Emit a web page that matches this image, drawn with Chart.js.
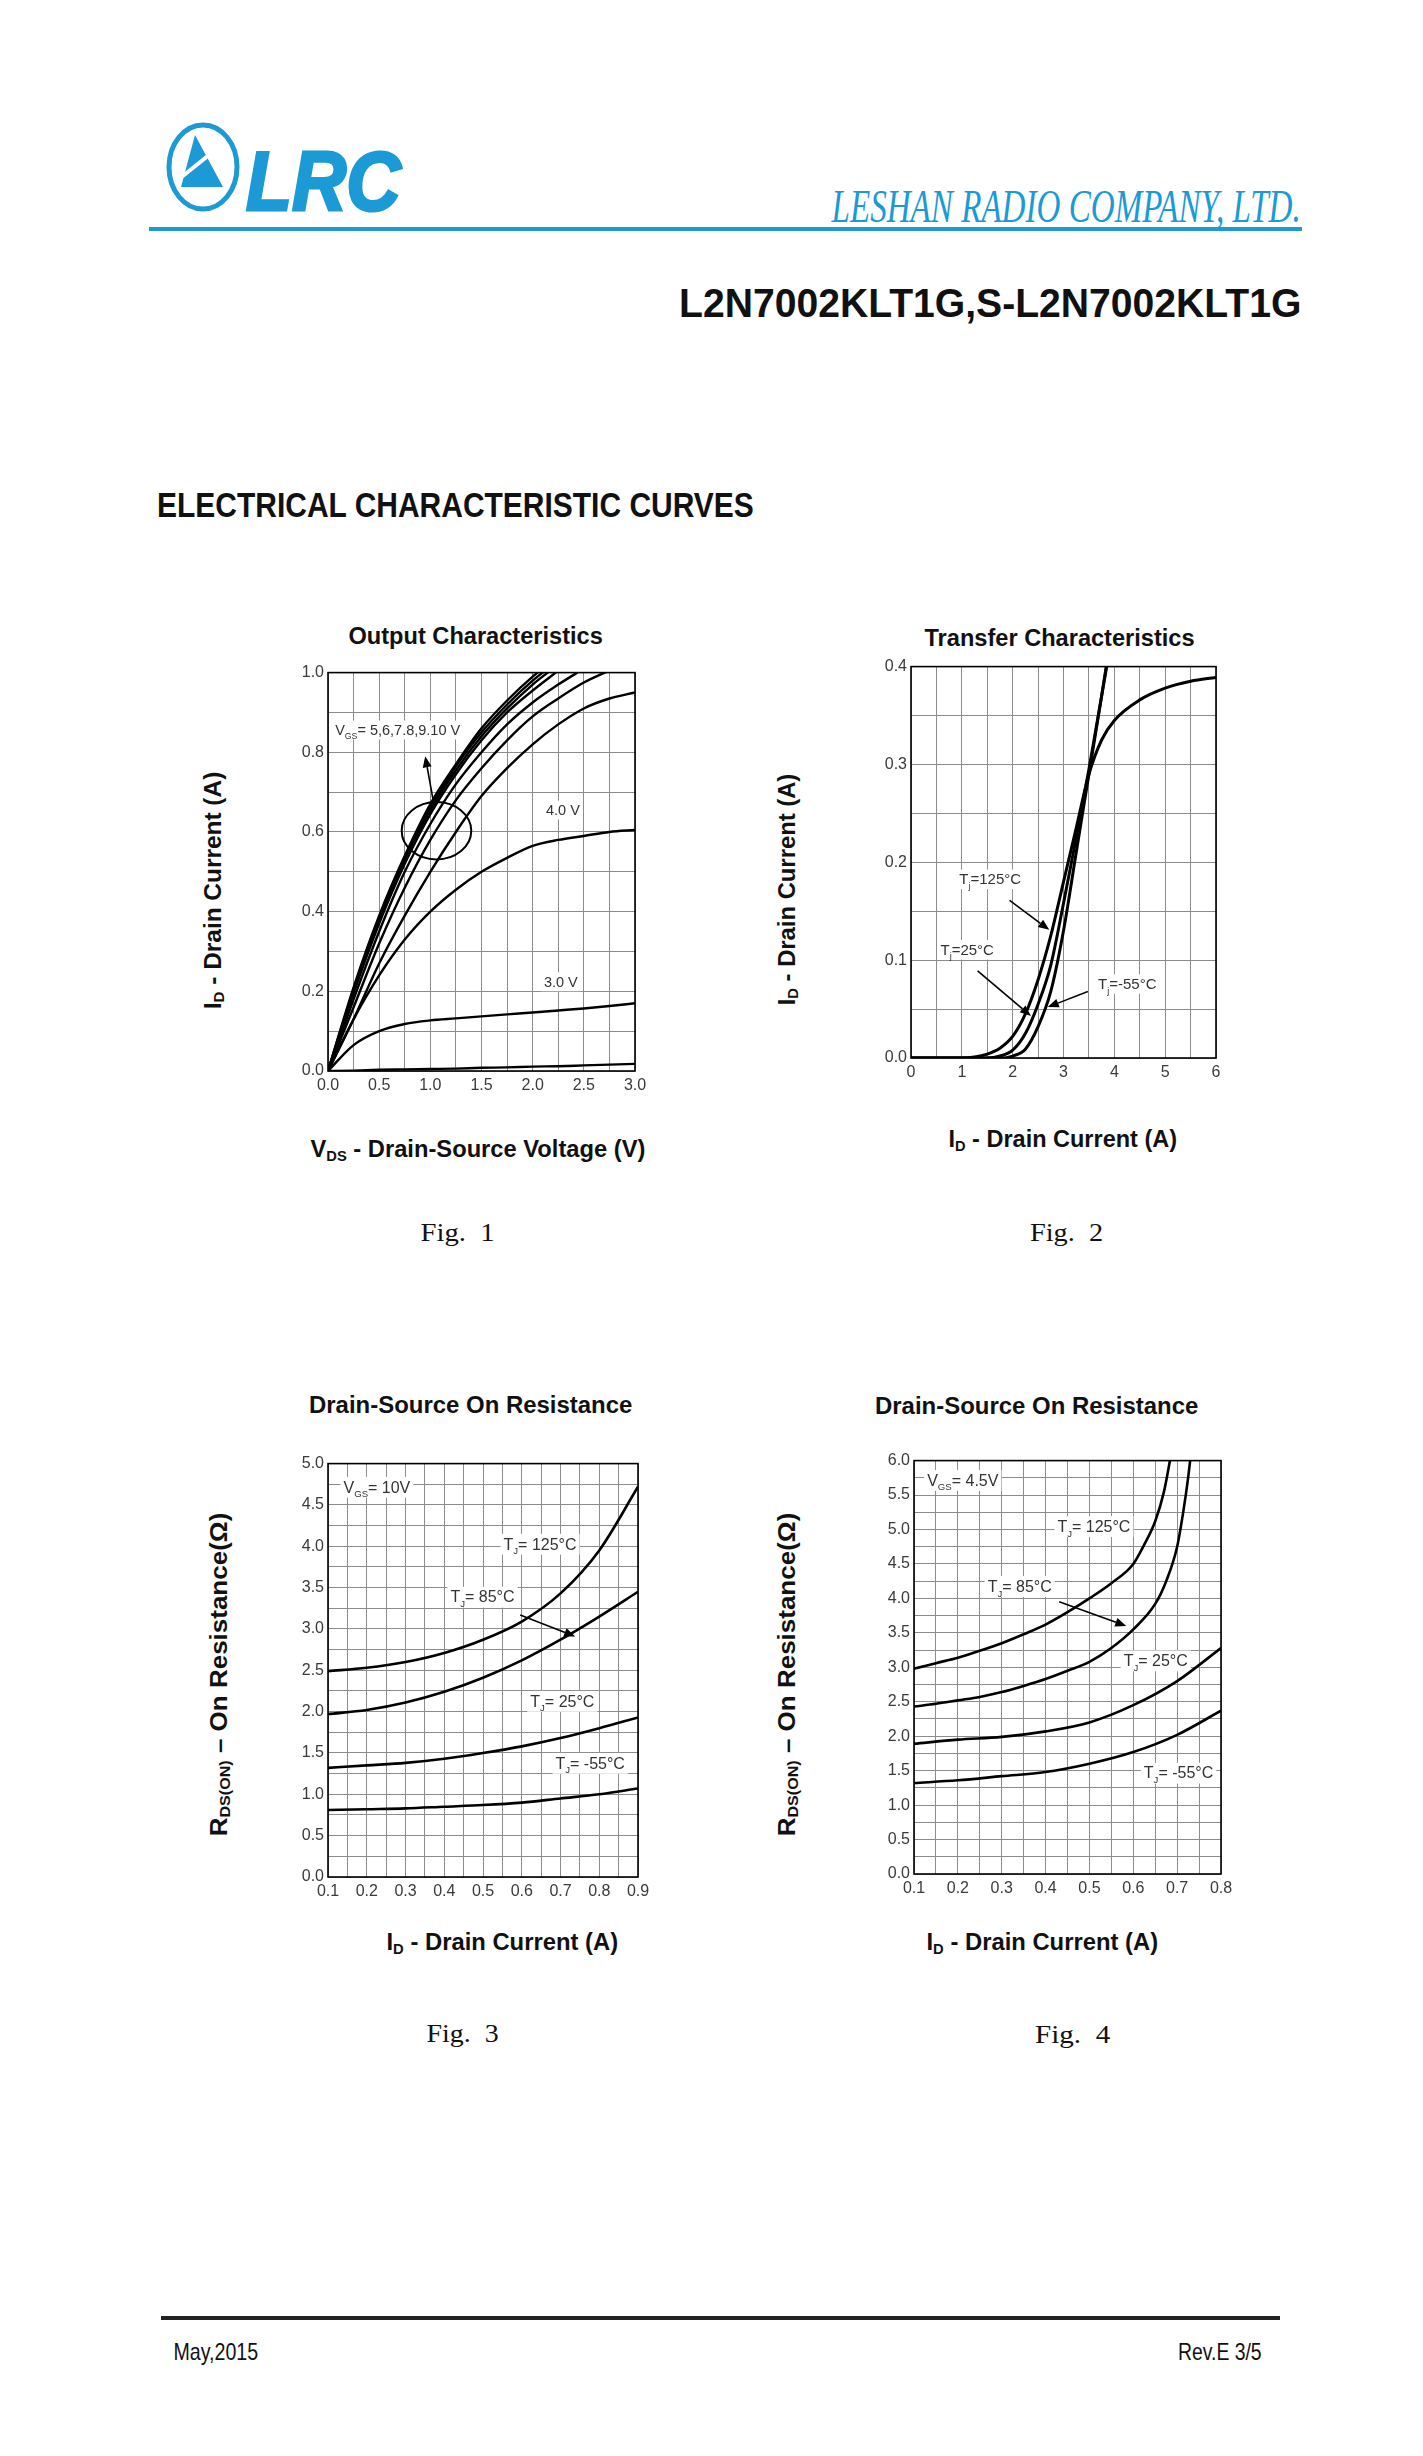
<!DOCTYPE html>
<html><head><meta charset="utf-8">
<script src="https://cdn.jsdelivr.net/npm/chart.js@4.4.1/dist/chart.umd.min.js"></script>
<style>
html,body{margin:0;padding:0;background:#fff;}
body{width:1423px;height:2456px;position:relative;overflow:hidden;font-family:"Liberation Sans",Arial,sans-serif;}
.abs{position:absolute;white-space:nowrap;line-height:1.15;}
canvas{position:absolute;}
sub{font-size:0.62em;vertical-align:-0.25em;line-height:0;}
</style></head><body>
<svg class="abs" style="left:165px;top:121px" width="76" height="92" viewBox="0 0 76 92">
  <ellipse cx="38" cy="46" rx="34" ry="42" fill="none" stroke="#1b9ad6" stroke-width="5"/>
  <polygon points="16,66 58,66 30,14" fill="#1b9ad6"/>
  <line x1="14" y1="58" x2="44" y2="34" stroke="#fff" stroke-width="4"/>
</svg>
<div class="abs" style="left:149px;top:227px;width:1153px;height:4px;background:#1b9ad6"></div>
<div class="abs" style="left:161px;top:2316px;width:1119px;height:4px;background:#222"></div>
<canvas id="c1" width="379" height="442" style="left:278px;top:659px"></canvas>
<canvas id="c2" width="377" height="435" style="left:861px;top:653px"></canvas>
<canvas id="c3" width="382" height="457" style="left:278px;top:1450px"></canvas>
<canvas id="c4" width="379" height="457" style="left:864px;top:1447px"></canvas>
<script>
// ---------- Fig.1 Output Characteristics (x: VDS [V], y: ID [A]) ----------
const fig1Vds     = [0, 0.25, 0.5, 0.75, 1.0, 1.25, 1.5, 1.75, 2.0, 2.25, 2.5, 2.75, 3.0];
const fig1Vgs10   = [0, 0.21, 0.39, 0.54, 0.67, 0.77, 0.86, 0.93, 0.99, 1.04];
const fig1Vgs9    = [0, 0.205, 0.385, 0.535, 0.66, 0.765, 0.85, 0.92, 0.98, 1.03];
const fig1Vgs8    = [0, 0.20, 0.38, 0.53, 0.655, 0.755, 0.84, 0.91, 0.97, 1.02];
const fig1Vgs7    = [0, 0.195, 0.37, 0.52, 0.645, 0.745, 0.83, 0.90, 0.955, 1.005];
const fig1Vgs6    = [0, 0.18, 0.35, 0.50, 0.62, 0.72, 0.80, 0.87, 0.925, 0.97, 1.01];
const fig1Vgs5    = [0, 0.16, 0.32, 0.46, 0.58, 0.68, 0.76, 0.83, 0.89, 0.935, 0.975, 1.005];
const fig1Vgs5b   = [0, 0.13, 0.27, 0.39, 0.50, 0.60, 0.69, 0.76, 0.82, 0.87, 0.91, 0.935, 0.95];
const fig1Vgs4    = [0, 0.13, 0.24, 0.33, 0.40, 0.455, 0.50, 0.535, 0.565, 0.58, 0.59, 0.60, 0.605];
const fig1Vgs3    = [0, 0.065, 0.10, 0.118, 0.127, 0.132, 0.137, 0.142, 0.147, 0.152, 0.157, 0.163, 0.17];
const fig1Vgs2    = [0, 0.001, 0.003, 0.004, 0.005, 0.006, 0.008, 0.009, 0.011, 0.012, 0.014, 0.016, 0.018];
const fig1XTicks  = ['0.0','0.5','1.0','1.5','2.0','2.5','3.0'];
const fig1YTicks  = ['0.0','0.2','0.4','0.6','0.8','1.0'];

// ---------- Fig.2 Transfer Characteristics (x: VGS [V], y: ID [A]) ----------
const fig2X125  = [0, 1.0, 1.25, 1.5, 1.75, 2.0, 2.25, 2.5, 2.75, 3.0, 3.25, 3.5, 3.75, 4.0, 4.5, 5.0, 5.5, 6.0];
const fig2Y125  = [0, 0, 0.001, 0.004, 0.01, 0.022, 0.045, 0.08, 0.125, 0.18, 0.235, 0.29, 0.325, 0.345, 0.366, 0.378, 0.385, 0.389];
const fig2X25   = [0, 1.5, 1.75, 2.0, 2.25, 2.5, 2.75, 3.0, 3.25, 3.5, 3.75, 3.9];
const fig2Y25   = [0, 0, 0.002, 0.008, 0.025, 0.055, 0.095, 0.158, 0.225, 0.295, 0.37, 0.415];
const fig2XM55  = [0, 1.75, 2.0, 2.25, 2.5, 2.75, 3.0, 3.25, 3.5, 3.75, 3.9];
const fig2YM55  = [0, 0, 0.002, 0.009, 0.032, 0.068, 0.13, 0.21, 0.29, 0.37, 0.42];
const fig2XTicks = ['0','1','2','3','4','5','6'];
const fig2YTicks = ['0.0','0.1','0.2','0.3','0.4'];

// ---------- Fig.3 RDS(on) vs ID, VGS = 10 V ----------
const fig3Id    = [0.1, 0.2, 0.3, 0.4, 0.5, 0.6, 0.7, 0.8, 0.9];
const fig3R125  = [2.49, 2.53, 2.60, 2.71, 2.87, 3.09, 3.43, 3.95, 4.72];
const fig3R85   = [1.97, 2.02, 2.11, 2.24, 2.41, 2.62, 2.87, 3.15, 3.45];
const fig3R25   = [1.32, 1.35, 1.38, 1.43, 1.50, 1.58, 1.68, 1.80, 1.93];
const fig3RM55  = [0.81, 0.82, 0.83, 0.85, 0.87, 0.90, 0.95, 1.00, 1.07];
const fig3XTicks = ['0.1','0.2','0.3','0.4','0.5','0.6','0.7','0.8','0.9'];
const fig3YTicks = ['0.0','0.5','1.0','1.5','2.0','2.5','3.0','3.5','4.0','4.5','5.0'];

// ---------- Fig.4 RDS(on) vs ID, VGS = 4.5 V ----------
const fig4Id125 = [0.1, 0.15, 0.2, 0.25, 0.3, 0.35, 0.4, 0.45, 0.5, 0.55, 0.6, 0.625, 0.65, 0.67, 0.685, 0.695];
const fig4R125  = [2.98, 3.06, 3.14, 3.24, 3.35, 3.48, 3.62, 3.80, 4.0, 4.22, 4.5, 4.78, 5.12, 5.55, 6.05, 6.4];
const fig4Id85  = [0.1, 0.15, 0.2, 0.25, 0.3, 0.35, 0.4, 0.45, 0.5, 0.55, 0.6, 0.65, 0.675, 0.7, 0.715, 0.725, 0.735];
const fig4R85   = [2.43, 2.47, 2.52, 2.57, 2.64, 2.73, 2.83, 2.95, 3.08, 3.28, 3.55, 3.92, 4.25, 4.75, 5.3, 5.75, 6.3];
const fig4Id    = [0.1, 0.2, 0.3, 0.4, 0.5, 0.6, 0.7, 0.8];
const fig4R25   = [1.89, 1.95, 1.99, 2.07, 2.20, 2.45, 2.80, 3.28];
const fig4RM55  = [1.32, 1.36, 1.42, 1.48, 1.60, 1.77, 2.02, 2.37];
const fig4XTicks = ['0.1','0.2','0.3','0.4','0.5','0.6','0.7','0.8'];
const fig4YTicks = ['0.0','0.5','1.0','1.5','2.0','2.5','3.0','3.5','4.0','4.5','5.0','5.5','6.0'];

const FONT = '"Liberation Sans", Arial, sans-serif';

function tickLabel(labels) {
  return v => { const f = labels.find(l => Math.abs(parseFloat(l) - v) < 1e-6); return f === undefined ? '' : f; };
}
function pts(xs, ys) { return ys.map((y, i) => ({ x: xs[i], y })); }
function ds(xs, ys, w) {
  return { data: pts(xs, ys), borderColor: '#000', borderWidth: w || 2.4, pointRadius: 0,
           showLine: true, fill: false, cubicInterpolationMode: 'monotone', tension: 0.4 };
}

function drawRich(ctx, n, px, py) {
  const size = n.size || 15, subSize = size * 0.6;
  let w = 0;
  const widths = n.parts.map(p => { ctx.font = (p[1] ? subSize : size) + 'px ' + FONT; const m = ctx.measureText(p[0]).width; w += m; return m; });
  if (n.bg) { ctx.fillStyle = '#fff'; ctx.fillRect(px - 3, py - size * 0.62, w + 6, size * 1.3); }
  ctx.fillStyle = '#333'; ctx.textBaseline = 'alphabetic'; ctx.textAlign = 'left';
  let cx = px; const base = py + size * 0.36;
  n.parts.forEach((p, i) => {
    ctx.font = (p[1] ? subSize : size) + 'px ' + FONT;
    ctx.fillText(p[0], cx, p[1] ? base + size * 0.3 : base);
    cx += widths[i];
  });
}
function drawArrow(ctx, x1, y1, x2, y2) {
  ctx.strokeStyle = '#000'; ctx.fillStyle = '#000'; ctx.lineWidth = 1.6;
  const a = Math.atan2(y2 - y1, x2 - x1), L = 11, W = 4.5;
  const bx = x2 - L * Math.cos(a), by = y2 - L * Math.sin(a);
  ctx.beginPath(); ctx.moveTo(x1, y1); ctx.lineTo(bx, by); ctx.stroke();
  ctx.beginPath(); ctx.moveTo(x2, y2);
  ctx.lineTo(bx + W * Math.sin(a), by - W * Math.cos(a));
  ctx.lineTo(bx - W * Math.sin(a), by + W * Math.cos(a));
  ctx.closePath(); ctx.fill();
}
function annPlugin(anns) {
  return {
    id: 'frameAnn',
    beforeDatasetsDraw(chart) {
      const { ctx, chartArea: a, scales: { x, y } } = chart;
      ctx.save();
      anns.filter(n => n.type === 'text').forEach(n => drawRich(ctx, n, x.getPixelForValue(n.x), y.getPixelForValue(n.y)));
      ctx.strokeStyle = '#000'; ctx.lineWidth = 1.6;
      ctx.strokeRect(a.left, a.top, a.right - a.left, a.bottom - a.top);
      ctx.restore();
    },
    afterDatasetsDraw(chart) {
      const { ctx, scales: { x, y } } = chart;
      ctx.save();
      anns.forEach(n => {
        if (n.type === 'arrow') drawArrow(ctx, x.getPixelForValue(n.x1), y.getPixelForValue(n.y1), x.getPixelForValue(n.x2), y.getPixelForValue(n.y2));
        if (n.type === 'ellipse') {
          const cx = x.getPixelForValue(n.x), cy = y.getPixelForValue(n.y);
          const rx = Math.abs(x.getPixelForValue(n.x + n.rx) - cx), ry = Math.abs(y.getPixelForValue(n.y + n.ry) - cy);
          ctx.strokeStyle = '#000'; ctx.lineWidth = 2; ctx.beginPath(); ctx.ellipse(cx, cy, rx, ry, 0, 0, Math.PI * 2); ctx.stroke();
        }
      });
      ctx.restore();
    }
  };
}
function scales(o) {
  const tickFont = { family: FONT, size: 16 };
  return {
    x: { type: 'linear', min: o.xmin, max: o.xmax, afterFit(s) { s.height = 30; },
         ticks: { stepSize: o.xstep, autoSkip: false, maxRotation: 0, padding: 5, color: '#3a3a3a', font: tickFont, callback: tickLabel(o.xl) },
         grid: { color: '#8c8c8c', lineWidth: 1, drawTicks: false }, border: { display: false } },
    y: { type: 'linear', min: o.ymin, max: o.ymax, afterFit(s) { s.width = 50; },
         ticks: { stepSize: o.ystep, autoSkip: false, padding: 4, color: '#3a3a3a', font: tickFont, callback: tickLabel(o.yl) },
         grid: { color: '#8c8c8c', lineWidth: 1, drawTicks: false }, border: { display: false } }
  };
}
function make(id, datasets, sc, anns) {
  return new Chart(document.getElementById(id), {
    type: 'scatter',
    data: { datasets },
    options: {
      responsive: false, animation: false, devicePixelRatio: 1,
      layout: { padding: { top: 12, right: 22, left: 0, bottom: 0 } },
      plugins: { legend: { display: false }, tooltip: { enabled: false }, title: { display: false } },
      scales: sc
    },
    plugins: [annPlugin(anns)]
  });
}

// Fig 1
make('c1', [fig1Vgs10, fig1Vgs9, fig1Vgs8, fig1Vgs7, fig1Vgs6, fig1Vgs5, fig1Vgs5b, fig1Vgs4, fig1Vgs3, fig1Vgs2].map(s => ds(fig1Vds, s, 2.4)),
  scales({ xmin: 0, xmax: 3, xstep: 0.25, xl: fig1XTicks, ymin: 0, ymax: 1, ystep: 0.1, yl: fig1YTicks }),
  [ { type: 'text', x: 0.07, y: 0.857, bg: true, size: 14.5, parts: [['V', 0], ['GS', 1], ['= 5,6,7.8,9.10 V', 0]] },
    { type: 'text', x: 2.13, y: 0.656, bg: true, size: 14.5, parts: [['4.0 V', 0]] },
    { type: 'text', x: 2.11, y: 0.225, bg: true, size: 14.5, parts: [['3.0 V', 0]] },
    { type: 'arrow', x1: 1.03, y1: 0.676, x2: 0.95, y2: 0.79 },
    { type: 'ellipse', x: 1.06, y: 0.603, rx: 0.34, ry: 0.072 } ]);

// Fig 2
make('c2', [ds(fig2X125, fig2Y125, 3), ds(fig2X25, fig2Y25, 3), ds(fig2XM55, fig2YM55, 3)],
  scales({ xmin: 0, xmax: 6, xstep: 0.5, xl: fig2XTicks, ymin: 0, ymax: 0.4, ystep: 0.05, yl: fig2YTicks }),
  [ { type: 'text', x: 0.95, y: 0.183, bg: true, size: 15, parts: [['T', 0], ['j', 1], ['=125°C', 0]] },
    { type: 'text', x: 0.58, y: 0.111, bg: true, size: 15, parts: [['T', 0], ['j', 1], ['=25°C', 0]] },
    { type: 'text', x: 3.68, y: 0.076, bg: true, size: 15, parts: [['T', 0], ['j', 1], ['=-55°C', 0]] },
    { type: 'arrow', x1: 1.94, y1: 0.161, x2: 2.72, y2: 0.131 },
    { type: 'arrow', x1: 1.31, y1: 0.089, x2: 2.36, y2: 0.043 },
    { type: 'arrow', x1: 3.48, y1: 0.068, x2: 2.69, y2: 0.052 } ]);

// Fig 3
make('c3', [ds(fig3Id, fig3R125, 2.6), ds(fig3Id, fig3R85, 2.6), ds(fig3Id, fig3R25, 2.6), ds(fig3Id, fig3RM55, 2.6)],
  scales({ xmin: 0.1, xmax: 0.9, xstep: 0.05, xl: fig3XTicks, ymin: 0, ymax: 5, ystep: 0.25, yl: fig3YTicks }),
  [ { type: 'text', x: 0.14, y: 4.72, bg: true, size: 16, parts: [['V', 0], ['GS', 1], ['= 10V', 0]] },
    { type: 'text', x: 0.553, y: 4.03, bg: true, size: 16, parts: [['T', 0], ['J', 1], ['= 125°C', 0]] },
    { type: 'text', x: 0.416, y: 3.39, bg: true, size: 16, parts: [['T', 0], ['J', 1], ['= 85°C', 0]] },
    { type: 'text', x: 0.622, y: 2.13, bg: true, size: 16, parts: [['T', 0], ['J', 1], ['= 25°C', 0]] },
    { type: 'text', x: 0.687, y: 1.38, bg: true, size: 16, parts: [['T', 0], ['J', 1], ['= -55°C', 0]] },
    { type: 'arrow', x1: 0.596, y1: 3.17, x2: 0.738, y2: 2.91 } ]);

// Fig 4
make('c4', [ds(fig4Id125, fig4R125, 2.6), ds(fig4Id85, fig4R85, 2.6), ds(fig4Id, fig4R25, 2.6), ds(fig4Id, fig4RM55, 2.6)],
  scales({ xmin: 0.1, xmax: 0.8, xstep: 0.05, xl: fig4XTicks, ymin: 0, ymax: 6, ystep: 0.25, yl: fig4YTicks }),
  [ { type: 'text', x: 0.13, y: 5.72, bg: true, size: 16, parts: [['V', 0], ['GS', 1], ['= 4.5V', 0]] },
    { type: 'text', x: 0.427, y: 5.05, bg: true, size: 16, parts: [['T', 0], ['J', 1], ['= 125°C', 0]] },
    { type: 'text', x: 0.268, y: 4.18, bg: true, size: 16, parts: [['T', 0], ['J', 1], ['= 85°C', 0]] },
    { type: 'text', x: 0.578, y: 3.1, bg: true, size: 16, parts: [['T', 0], ['J', 1], ['= 25°C', 0]] },
    { type: 'text', x: 0.624, y: 1.47, bg: true, size: 16, parts: [['T', 0], ['J', 1], ['= -55°C', 0]] },
    { type: 'arrow', x1: 0.431, y1: 3.95, x2: 0.584, y2: 3.6 } ]);

// ---------- page texts ----------
function txt(html, cx, cy, css, fitW, rot) {
  const e = document.createElement('div');
  e.className = 'abs'; e.innerHTML = html; e.style.cssText += css;
  document.body.appendChild(e);
  const w = e.offsetWidth, h = e.offsetHeight;
  const s = fitW ? fitW / w : 1;
  e.style.left = (cx - w / 2) + 'px'; e.style.top = (cy - h / 2) + 'px';
  e.style.transformOrigin = '50% 50%';
  e.style.transform = (rot ? 'rotate(-90deg) ' : '') + 'scaleX(' + s + ')';
}
const B = 'font-family:' + FONT + ';font-weight:bold;color:#111;';
txt('LRC', 323, 181, B + 'font-size:84px;font-style:italic;color:#1b9ad6;-webkit-text-stroke:3px #1b9ad6;', 155);
txt('LESHAN RADIO COMPANY, LTD.', 1066, 206, 'font-family:"Liberation Serif",serif;font-style:italic;font-size:47px;color:#1b9ad6;', 469);
txt('L2N7002KLT1G,S-L2N7002KLT1G', 990, 303, B + 'font-size:41px;', 622);
txt('ELECTRICAL CHARACTERISTIC CURVES', 455, 505, B + 'font-size:35px;', 597);

txt('Output Characteristics', 475, 636, B + 'font-size:23.5px;', 254);
txt('I<sub>D</sub> - Drain Current (A)', 213, 890, B + 'font-size:23.5px;', 238, true);
txt('V<sub>DS</sub> - Drain-Source Voltage (V)', 478, 1149, B + 'font-size:23.5px;', 335);

txt('Transfer Characteristics', 1059, 638, B + 'font-size:23.5px;', 270);
txt('I<sub>D</sub> - Drain Current (A)', 787, 889, B + 'font-size:23.5px;', 232, true);
txt('I<sub>D</sub> - Drain Current (A)', 1063, 1139, B + 'font-size:23.5px;', 229);

txt('Drain-Source On Resistance', 470, 1405, B + 'font-size:23.5px;', 323);
txt('R<sub>DS(ON)</sub> – On Resistance(Ω)', 219, 1674, B + 'font-size:23.5px;', 324, true);
txt('I<sub>D</sub> - Drain Current (A)', 502, 1942, B + 'font-size:23.5px;', 232);

txt('Drain-Source On Resistance', 1036, 1406, B + 'font-size:23.5px;', 323);
txt('R<sub>DS(ON)</sub> – On Resistance(Ω)', 787, 1674, B + 'font-size:23.5px;', 324, true);
txt('I<sub>D</sub> - Drain Current (A)', 1042, 1942, B + 'font-size:23.5px;', 232);

const FIG = 'font-family:"Liberation Serif",serif;font-size:26px;color:#111;';
txt('Fig.&nbsp; 1', 457, 1233, FIG, 74);
txt('Fig.&nbsp; 2', 1066, 1233, FIG, 73);
txt('Fig.&nbsp; 3', 462, 2034, FIG, 72);
txt('Fig.&nbsp; 4', 1072, 2035, FIG, 75);

const FOOT = 'font-family:"Liberation Sans Narrow","Liberation Sans",sans-serif;font-size:24px;color:#111;';
txt('May,2015', 216, 2352, FOOT, 85);
txt('Rev.E 3/5', 1220, 2352, FOOT, 84);
</script>
</body></html>
